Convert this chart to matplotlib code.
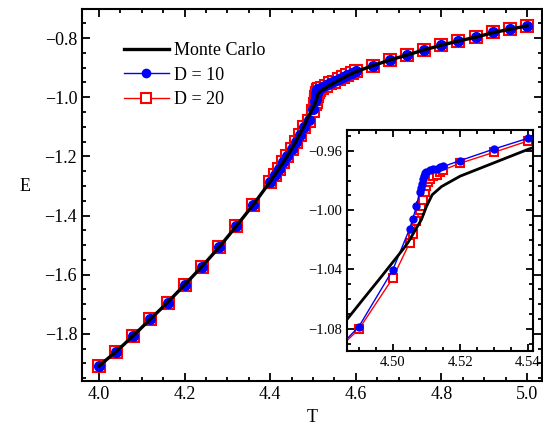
import matplotlib.pyplot as plt
from matplotlib.ticker import MultipleLocator, FuncFormatter

plt.rcParams["font.family"] = ["Liberation Serif", "DejaVu Serif"]

# Monte Carlo reference curve
t_mc = [4.00, 4.04, 4.08, 4.12, 4.16, 4.20, 4.24, 4.28, 4.32, 4.36,
        4.40, 4.42, 4.44, 4.46, 4.48, 4.4864, 4.4913, 4.4964, 4.503,
        4.5045, 4.5085, 4.510, 4.5117, 4.5145, 4.52, 4.53, 4.54, 4.56,
        4.58, 4.60, 4.64, 4.68, 4.72, 4.76, 4.80, 4.84, 4.88, 4.92,
        4.96, 5.00]
e_mc = [-1.908, -1.860, -1.806, -1.750, -1.694, -1.634, -1.573, -1.508,
        -1.437, -1.364, -1.285, -1.243, -1.199, -1.150, -1.095, -1.074,
        -1.060, -1.0456, -1.0266, -1.022, -1.0064, -0.9975, -0.9896,
        -0.984, -0.977, -0.968, -0.959, -0.943, -0.928, -0.914, -0.893,
        -0.874, -0.857, -0.840, -0.824, -0.810, -0.797, -0.782, -0.770,
        -0.759]

# D = 10
t_d10 = [4.00, 4.04, 4.08, 4.12, 4.16, 4.20, 4.24, 4.28, 4.32, 4.36,
         4.40, 4.41, 4.42, 4.43, 4.44, 4.45, 4.46, 4.47, 4.48, 4.49,
         4.50, 4.505, 4.506, 4.507, 4.508, 4.5083, 4.5086, 4.5089,
         4.5092, 4.5095, 4.510, 4.511, 4.512, 4.513, 4.514, 4.515,
         4.52, 4.53, 4.54, 4.55, 4.56, 4.57, 4.58, 4.59, 4.60,
         4.64, 4.68, 4.72, 4.76, 4.80, 4.84, 4.88, 4.92, 4.96, 5.00]
e_d10 = [-1.908, -1.860, -1.806, -1.750, -1.694, -1.634, -1.573, -1.508,
         -1.437, -1.364, -1.285, -1.264, -1.242, -1.220, -1.197, -1.174,
         -1.150, -1.126, -1.102, -1.0786, -1.0405, -1.0127, -1.0057,
         -0.9975, -0.9874, -0.985, -0.982, -0.979, -0.977, -0.975,
         -0.974, -0.973, -0.9725, -0.972, -0.971, -0.9705, -0.9665,
         -0.9587, -0.9515, -0.946, -0.939, -0.932, -0.925, -0.918,
         -0.911, -0.894, -0.874, -0.857, -0.8405, -0.824, -0.809,
         -0.798, -0.781, -0.770, -0.759]

# D = 20
t_d20 = [4.00, 4.04, 4.08, 4.12, 4.16, 4.20, 4.24, 4.28, 4.32, 4.36,
         4.40, 4.41, 4.42, 4.43, 4.44, 4.45, 4.46, 4.47, 4.48, 4.49,
         4.50, 4.505, 4.506, 4.507, 4.508, 4.5085, 4.509, 4.5095,
         4.510, 4.5105, 4.511, 4.512, 4.513, 4.514, 4.515,
         4.52, 4.53, 4.54, 4.55, 4.56, 4.57, 4.58, 4.59, 4.60,
         4.64, 4.68, 4.72, 4.76, 4.80, 4.84, 4.88, 4.92, 4.96, 5.00]
e_d20 = [-1.908, -1.860, -1.806, -1.750, -1.694, -1.634, -1.573, -1.508,
         -1.437, -1.364, -1.285, -1.264, -1.242, -1.220, -1.197, -1.174,
         -1.150, -1.126, -1.102, -1.0804, -1.046, -1.0221, -1.0158,
         -1.0075, -1.0001, -0.997, -0.993, -0.988, -0.984, -0.981,
         -0.979, -0.977, -0.976, -0.9745, -0.9728, -0.9683, -0.9609,
         -0.9533, -0.947, -0.940, -0.933, -0.926, -0.919, -0.912,
         -0.894, -0.874, -0.857, -0.8405, -0.824, -0.809, -0.798,
         -0.781, -0.770, -0.759]


def fmt(decimals):
    return FuncFormatter(
        lambda v, pos: f"{v:.{decimals}f}".replace("-", "\u2212"))


def draw(ax, ms_sq, ms_c, lw_mc):
    ax.plot(t_d20, e_d20, color="red", marker="s", markersize=ms_sq,
            markerfacecolor="white", markeredgecolor="red",
            markeredgewidth=1.5, linewidth=1.0, label="D = 20", zorder=2)
    ax.plot(t_d10, e_d10, color="blue", marker="o", markersize=ms_c,
            linewidth=1.0, label="D = 10", zorder=3)
    ax.plot(t_mc, e_mc, color="black", linewidth=lw_mc,
            label="Monte Carlo", zorder=4)


def style(ax, major_len, minor_len):
    for s in ax.spines.values():
        s.set_linewidth(1.5)
    ax.tick_params(which="both", direction="in", top=True, right=True,
                   width=1.3)
    ax.tick_params(which="major", length=major_len)
    ax.tick_params(which="minor", length=minor_len)


fig = plt.figure(figsize=(5.43, 4.33), dpi=100)
ax = fig.add_axes([0.151, 0.119, 0.847, 0.860])
draw(ax, 8, 7, 2.4)
ax.set_xlim(3.96, 5.035)
ax.set_ylim(-1.961, -0.702)
ax.xaxis.set_major_locator(MultipleLocator(0.2))
ax.xaxis.set_minor_locator(MultipleLocator(0.05))
ax.yaxis.set_major_locator(MultipleLocator(0.2))
ax.yaxis.set_minor_locator(MultipleLocator(0.05))
ax.xaxis.set_major_formatter(fmt(1))
ax.yaxis.set_major_formatter(fmt(1))
style(ax, 6, 3)
ax.tick_params(labelsize=13)
ax.set_xlabel("T", fontsize=13)
ax.set_ylabel("E", fontsize=13, rotation=0, labelpad=14)

handles, labels = ax.get_legend_handles_labels()
order = [2, 1, 0]
ax.legend([handles[i] for i in order], [labels[i] for i in order],
          loc="upper left", bbox_to_anchor=(0.055, 0.955), frameon=False,
          fontsize=13, handlelength=2.5, labelspacing=0.42,
          handletextpad=0.3, markerscale=0.85)

ins = fig.add_axes([0.639, 0.1894, 0.3425, 0.510])
draw(ins, 5.5, 5, 2.0)
ins.set_xlim(4.4865, 4.5415)
ins.set_ylim(-1.095, -0.946)
ins.xaxis.set_major_locator(MultipleLocator(0.02))
ins.xaxis.set_minor_locator(MultipleLocator(0.005))
ins.yaxis.set_major_locator(MultipleLocator(0.04))
ins.yaxis.set_minor_locator(MultipleLocator(0.01))
ins.xaxis.set_major_formatter(fmt(2))
ins.yaxis.set_major_formatter(fmt(2))
style(ins, 5, 3)
ins.tick_params(labelsize=10.5)

fig.savefig("out.png", dpi=100)
